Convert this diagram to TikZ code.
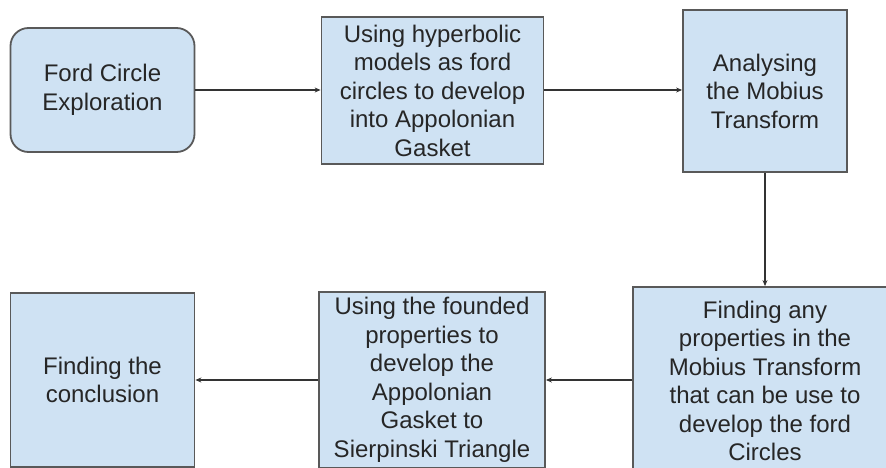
\documentclass[tikz,border=0pt]{standalone}
\usepackage{fontspec}
\setmainfont{Liberation Sans}
\usetikzlibrary{arrows.meta}
\definecolor{boxfill}{HTML}{CFE2F3}
\definecolor{boxline}{HTML}{595959}
\definecolor{conline}{HTML}{333333}
\begin{document}
\begin{tikzpicture}[x=1pt,y=-1pt,
  box/.style={draw=boxline,fill=boxfill,line width=1.8pt,align=center,inner sep=0pt,
    font=\fontsize{24}{28.5}\selectfont,text=black!85},
  conn/.style={draw=conline,line width=1.6pt,-{Stealth[length=6pt,width=5pt]}}]
\useasboundingbox (0,0) rectangle (886,468);
\node[box,rounded corners=18pt,minimum width=184pt,minimum height=124pt] (b1) at (102.5,90) {Ford Circle\\Exploration};
\node[box,minimum width=222pt,minimum height=147pt] (b2) at (432.5,90.5) {Using hyperbolic\\models as ford\\circles to develop\\into Appolonian\\Gasket};
\node[box,minimum width=164pt,minimum height=162pt] (b3) at (765,91) {Analysing\\the Mobius\\Transform};
\node[box,minimum width=264pt,minimum height=188pt] (b6) at (765,381) {Finding any\\properties in the\\Mobius Transform\\that can be use to\\develop the ford\\Circles};
\node[box,minimum width=226pt,minimum height=176pt] (b5) at (432,380) {Using the founded\\properties to\\develop the\\Appolonian\\Gasket to\\Sierpinski Triangle};
\node[box,minimum width=184pt,minimum height=174pt] (b4) at (102.5,380) {Finding the\\conclusion};
\coordinate (lowrow) at (0,380);
\draw[conn] (b1.east) -- (b2.west |- b1.east);
\draw[conn] (b2.east |- b1.east) -- (b3.west |- b1.east);
\draw[conn] (b3.south) -- (b6.north);
\draw[conn] (b6.west |- lowrow) -- (b5.east |- lowrow);
\draw[conn] (b5.west |- lowrow) -- (b4.east |- lowrow);
\end{tikzpicture}
\end{document}
